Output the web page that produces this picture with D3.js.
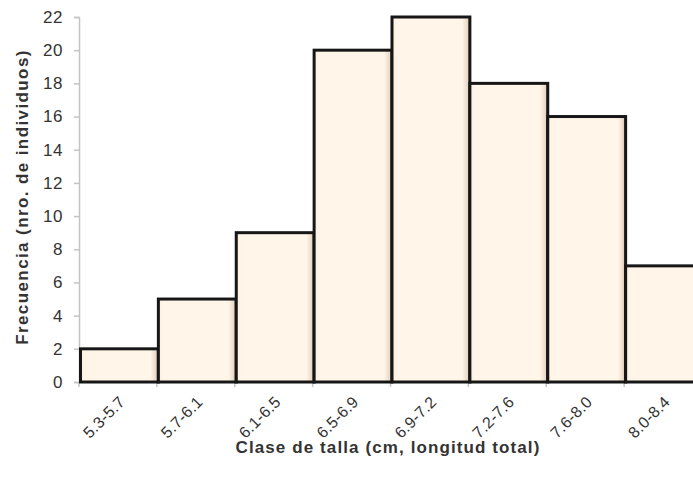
<!DOCTYPE html>
<html>
<head>
<meta charset="utf-8">
<script src="https://cdn.jsdelivr.net/npm/d3@7"></script>
<style>
  html, body { margin: 0; padding: 0; background: #fff; }
  svg { display: block; font-family: "Liberation Sans", Arial, sans-serif; }
</style>
</head>
<body>
<svg id="chart" width="693" height="487"></svg>
<script>
// Size classes (cm, total length) and number of individuals in each
const classes = ["5.3-5.7", "5.7-6.1", "6.1-6.5", "6.5-6.9", "6.9-7.2", "7.2-7.6", "7.6-8.0", "8.0-8.4"];
const counts = [2, 5, 9, 20, 22, 18, 16, 7];
const yTicks = [0, 2, 4, 6, 8, 10, 12, 14, 16, 18, 20, 22];

const svg = d3.select("#chart");
const plotLeft = 79, plotRight = 702, plotTop = 17, plotBottom = 382;

const x = d3.scaleBand().domain(classes).range([plotLeft, plotRight]).paddingInner(0).paddingOuter(0);
const y = d3.scaleLinear().domain([0, 22]).range([plotBottom, plotTop]);

const defs = svg.append("defs");
const grad = defs.append("linearGradient").attr("id", "barFill").attr("x1", 0).attr("x2", 1).attr("y1", 0).attr("y2", 0);
grad.append("stop").attr("offset", "0%").attr("stop-color", "#fdeedd");
grad.append("stop").attr("offset", "6%").attr("stop-color", "#fff5e8");
grad.append("stop").attr("offset", "90%").attr("stop-color", "#fff5e8");
grad.append("stop").attr("offset", "97%").attr("stop-color", "#e9d8c8");
grad.append("stop").attr("offset", "100%").attr("stop-color", "#9a8a80");

// y axis
const yAxis = svg.append("g").attr("transform", `translate(${plotLeft},0)`)
  .call(d3.axisLeft(y).tickValues(yTicks).tickSize(5).tickPadding(11));
yAxis.select(".domain").attr("stroke", "#c4c4c4").attr("stroke-width", 1.5);
yAxis.selectAll(".tick line").attr("stroke", "#c4c4c4").attr("stroke-width", 1.5);
yAxis.selectAll(".tick text").attr("font-size", 17).attr("fill", "#333").attr("letter-spacing", 0.5);

// x axis baseline and class boundary ticks
const xAxisG = svg.append("g").attr("transform", `translate(0,${plotBottom})`);
xAxisG.append("line").attr("x1", plotLeft).attr("x2", plotRight).attr("stroke", "#c4c4c4").attr("stroke-width", 1.5);
xAxisG.selectAll("line.bound").data(classes.concat(["end"])).join("line")
  .attr("class", "bound")
  .attr("x1", (d, i) => plotLeft + i * x.step()).attr("x2", (d, i) => plotLeft + i * x.step())
  .attr("y1", 0).attr("y2", 5).attr("stroke", "#c4c4c4").attr("stroke-width", 1.5);
xAxisG.selectAll("text").data(classes).join("text")
  .attr("transform", d => `translate(${x(d) + x.bandwidth() / 2 + 4},${17}) rotate(-45)`)
  .attr("text-anchor", "end")
  .attr("dy", "0.35em")
  .attr("font-size", 16)
  .attr("letter-spacing", 0.2)
  .attr("fill", "#333")
  .text(d => d);

// bars
const bars = svg.append("g");
bars.selectAll("rect").data(classes).join("rect")
  .attr("x", d => x(d) + 1.5)
  .attr("y", (d, i) => y(counts[i]))
  .attr("width", x.bandwidth())
  .attr("height", (d, i) => plotBottom - y(counts[i]))
  .attr("fill", "url(#barFill)")
  .attr("stroke", "#161616")
  .attr("stroke-width", 3);

// axis titles
svg.append("text")
  .attr("transform", `translate(28,197) rotate(-90)`)
  .attr("text-anchor", "middle")
  .attr("font-size", 17).attr("font-weight", "bold").attr("fill", "#333")
  .attr("letter-spacing", 1.4)
  .text("Frecuencia (nro. de individuos)");

svg.append("text")
  .attr("x", 388).attr("y", 453)
  .attr("text-anchor", "middle")
  .attr("font-size", 17).attr("font-weight", "bold").attr("fill", "#333")
  .attr("letter-spacing", 1.1)
  .text("Clase de talla (cm, longitud total)");
</script>
</body>
</html>
